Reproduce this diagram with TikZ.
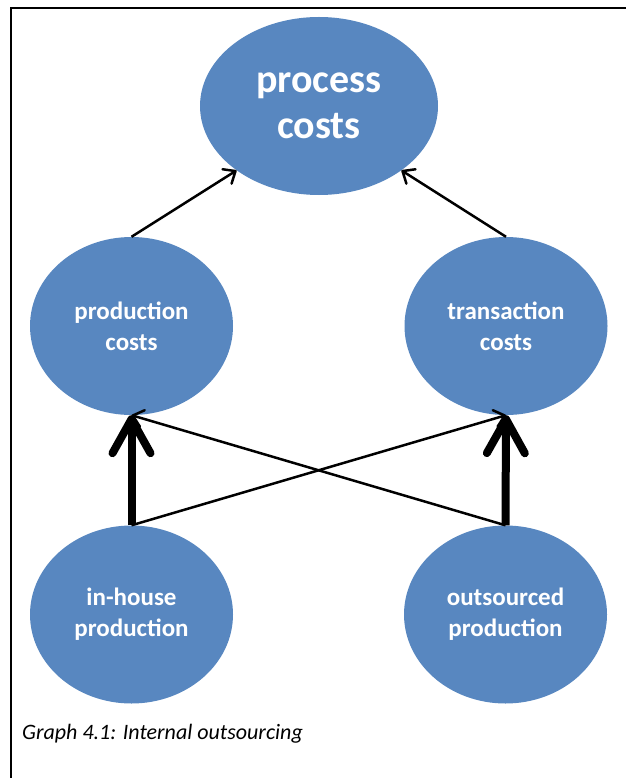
\documentclass[tikz,border=0pt]{standalone}
\usepackage{fontspec}
\setmainfont{Carlito}
\usetikzlibrary{shapes.geometric,arrows.meta}
\definecolor{ovalblue}{RGB}{88,135,192}

\begin{document}
\begin{tikzpicture}[x=1pt,y=-1pt,
    cost/.style={ellipse, fill=ovalblue, text=white, align=center, inner sep=0pt,
        font=\bfseries\fontsize{25}{31}\selectfont, minimum width=203pt, minimum height=178pt},
    thinarrow/.style={-{Straight Barb[length=10pt,width=17pt,round]}, line width=2.5pt},
    thickarrow/.style={-{Straight Barb[length=34pt,width=38pt,round]}, line width=8pt}]
        \useasboundingbox (0,0) rectangle (626,778);

        % Frame
        \draw[line width=2.5pt] (11,778) -- (11,8) -- (626,8);

        % Cost ovals
        \node[cost, minimum width=238pt, font=\bfseries\fontsize{40}{50}\selectfont] (proc) at (319,106) {\raisebox{-6pt}{process}\\\raisebox{-2pt}{costs}};
        \node[cost] (prod) at (131.5,326) {production\\costs};
        \node[cost] (trans) at (506,326) {transaction\\costs};

        % Production modes
        \node[cost] (inhouse) at (131.5,614.5) {in-house\\production};
        \node[cost] (outsrc) at (505.5,614.5) {outsourced\\production};

        % Arrows
        \draw[thinarrow] (prod.north) -- (proc.218);
        \draw[thinarrow] (trans.north) -- (proc.322);
        \draw[thickarrow] (inhouse.north) -- (prod.south);
        \draw[thickarrow] (outsrc.north) -- (trans.south);
        \draw[thinarrow] (inhouse.north) -- (trans.south);
        \draw[thinarrow] (outsrc.north) -- (prod.south);

        \node[anchor=west, inner sep=0pt, font=\itshape\fontsize{22}{26}\selectfont] (caption) at (22,734) {Graph 4.1: Internal outsourcing};
    \end{tikzpicture}
\end{document}
